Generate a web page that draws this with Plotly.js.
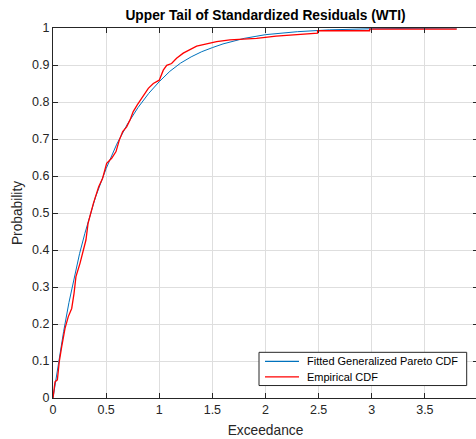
<!DOCTYPE html>
<html>
<head>
<meta charset="utf-8">
<script src="https://cdn.plot.ly/plotly-3.0.1.min.js"></script>
<style>
html,body{margin:0;padding:0;overflow:hidden;background:#fff;width:476px;height:439px;}
#chart{width:481px;height:439px;}
</style>
</head>
<body>
<div id="chart"></div>
<script>
// Fitted Generalized Pareto CDF
const fitX = [0, 0.05, 0.1, 0.15, 0.2, 0.25, 0.3, 0.4, 0.5, 0.6, 0.7, 0.8, 0.9, 1.0, 1.1, 1.2, 1.3, 1.4, 1.5, 1.6, 1.8, 2.0, 2.3, 2.6, 3.0, 3.4, 3.8];
const fitY = [0, 0.095, 0.18, 0.258, 0.325, 0.39, 0.445, 0.543, 0.62, 0.686, 0.740, 0.785, 0.823, 0.855, 0.883, 0.905, 0.922, 0.936, 0.947, 0.957, 0.972, 0.982, 0.990, 0.995, 0.998, 0.9993, 0.9998];

// Empirical CDF (repeated x = vertical jump of the step)
const ecdfX = [0, 0.019, 0.041, 0.059, 0.082, 0.113, 0.144, 0.176, 0.198, 0.216, 0.254, 0.285, 0.31, 0.33, 0.38, 0.43, 0.467, 0.505, 0.552, 0.593, 0.624, 0.656, 0.693, 0.724, 0.755, 0.793, 0.834, 0.897, 0.944, 1.0, 1.038, 1.07, 1.116, 1.163, 1.226, 1.289, 1.352, 1.446, 1.54, 1.665, 1.79, 1.916, 2.10, 2.35, 2.49, 2.49, 2.98, 2.98, 3.80];
const ecdfY = [0, 0.044, 0.049, 0.098, 0.139, 0.188, 0.22, 0.242, 0.283, 0.328, 0.364, 0.40, 0.427, 0.472, 0.526, 0.571, 0.594, 0.634, 0.648, 0.666, 0.697, 0.72, 0.733, 0.751, 0.774, 0.792, 0.81, 0.837, 0.85, 0.859, 0.886, 0.899, 0.904, 0.918, 0.932, 0.941, 0.951, 0.957, 0.963, 0.968, 0.969, 0.972, 0.978, 0.984, 0.986, 0.9925, 0.9925, 0.997, 0.997];

const xTicks = [0, 0.5, 1, 1.5, 2, 2.5, 3, 3.5, 4];
const yTicks = [0, 0.1, 0.2, 0.3, 0.4, 0.5, 0.6, 0.7, 0.8, 0.9, 1];
const seriesNames = ['Fitted Generalized Pareto CDF', 'Empirical CDF'];
const seriesColors = ['#0072BD', '#FF0000'];

const FONT = 'Liberation Sans, Arial, Helvetica, sans-serif';
const AX = '#262626';

const traces = [
  {x: fitX, y: fitY, type: 'scatter', mode: 'lines', name: seriesNames[0],
   line: {color: seriesColors[0], width: 1}},
  {x: ecdfX, y: ecdfY, type: 'scatter', mode: 'lines', name: seriesNames[1],
   line: {color: seriesColors[1], width: 1.3}}
];

const axisCommon = {
  showline: true, linecolor: AX, linewidth: 1, mirror: 'ticks',
  ticks: 'inside', ticklen: 5, tickcolor: AX, tickwidth: 1,
  showgrid: true, gridcolor: '#dedede', gridwidth: 1,
  zeroline: false, tickfont: {family: FONT, size: 12.5, color: AX},
  automargin: false
};

// Plot-area geometry (pixels) used to place the MATLAB-style legend box
const PL = 53, PW = 425, PB = 398.5, PH = 371;
const px2x = p => (p - PL) / PW;
const px2y = p => (PB - p) / PH;

const legBox = {x0: 259, x1: 466.7, y0: 352.7, y1: 386};
const rowY = [361.7, 377.3];
const shapes = [
  {type: 'rect', xref: 'paper', yref: 'paper', layer: 'above',
   x0: px2x(legBox.x0), x1: px2x(legBox.x1), y0: px2y(legBox.y1), y1: px2y(legBox.y0),
   line: {color: AX, width: 1}, fillcolor: '#fff'}
];
const annotations = [];
seriesNames.forEach((n, i) => {
  shapes.push({type: 'line', xref: 'paper', yref: 'paper', layer: 'above',
    x0: px2x(265), x1: px2x(299), y0: px2y(rowY[i]), y1: px2y(rowY[i]),
    line: {color: seriesColors[i], width: i === 0 ? 1.2 : 1.3}});
  annotations.push({xref: 'paper', yref: 'paper', x: px2x(305), y: px2y(rowY[i]),
    xanchor: 'left', yanchor: 'middle', showarrow: false, text: n,
    font: {family: FONT, size: 11, color: '#000'}});
});

const layout = {
  width: 481, height: 439,
  margin: {l: 53, r: 3, t: 27.5, b: 40.5},
  paper_bgcolor: '#fff', plot_bgcolor: '#fff',
  showlegend: false,
  title: {text: '<b>Upper Tail of Standardized Residuals (WTI)</b>',
          font: {family: FONT, size: 13.75, color: '#000'},
          x: 0.5, xref: 'paper', y: 1 - 15/439, yref: 'container', yanchor: 'middle'},
  xaxis: Object.assign({}, axisCommon, {
    range: [0, 4], tickvals: xTicks, ticktext: xTicks.map(String),
    title: {text: 'Exceedance', font: {family: FONT, size: 13.75, color: AX}, standoff: 9}
  }),
  yaxis: Object.assign({}, axisCommon, {
    range: [0, 1], tickvals: yTicks, ticktext: yTicks.map(String),
    title: {text: 'Probability', font: {family: FONT, size: 13.75, color: AX}, standoff: 6}
  }),
  shapes: shapes,
  annotations: annotations
};

Plotly.newPlot('chart', traces, layout, {displayModeBar: false, staticPlot: true});
</script>
</body>
</html>
